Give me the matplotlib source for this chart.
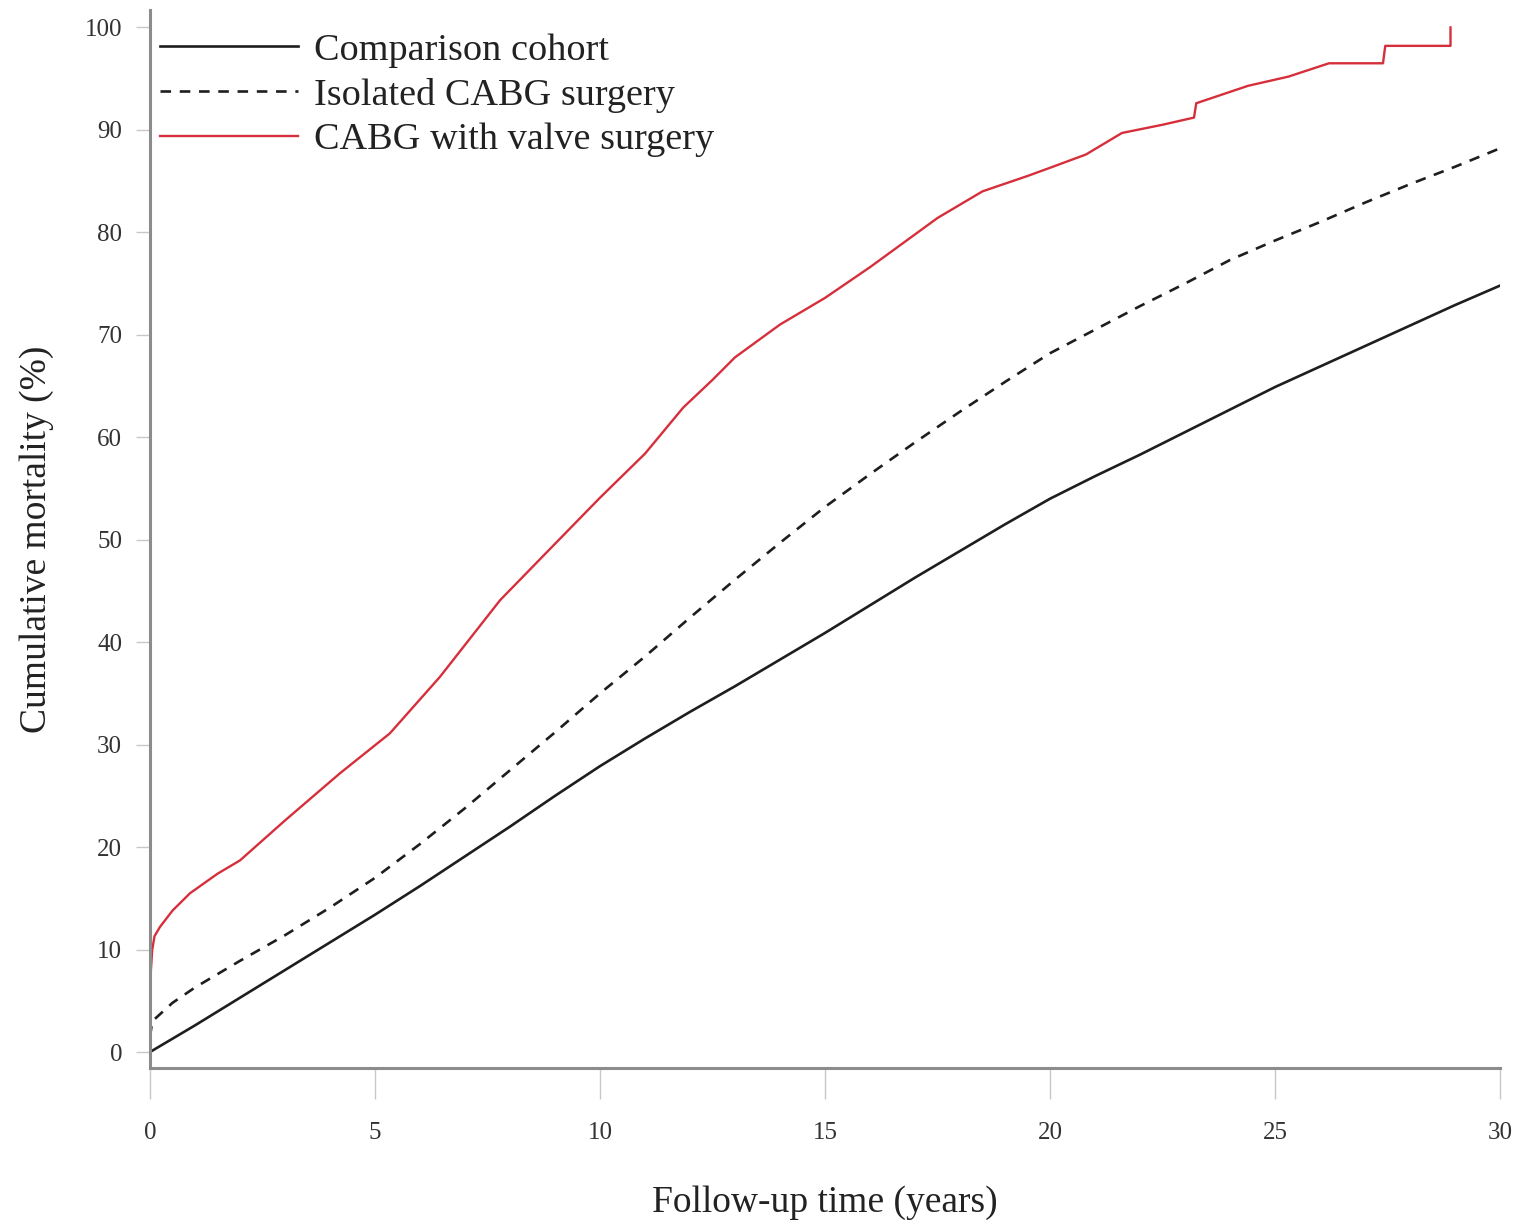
import matplotlib
matplotlib.use("Agg")
import matplotlib.pyplot as plt

# values (years, cumulative mortality %)
comp_t = [0, 0.5, 1, 2, 3, 4, 5, 6, 7, 8, 9, 10, 11, 12, 13, 14, 15, 16, 17, 18,
          19, 20, 21, 22, 23, 24, 25, 26, 27, 28, 29, 30]
comp_v = [0, 1.3, 2.6, 5.3, 8.0, 10.7, 13.4, 16.2, 19.1, 22.0, 25.0, 27.9, 30.6, 33.2,
          35.7, 38.3, 40.9, 43.6, 46.3, 48.9, 51.5, 54.0, 56.2, 58.3, 60.5, 62.7, 64.9,
          66.9, 68.9, 70.9, 72.9, 74.8]

iso_t = [0, 0.05, 0.5, 1, 2, 3, 4, 5, 6, 7, 8, 9, 10, 11, 12, 13, 14, 15, 16, 17, 18,
         19, 20, 21, 22, 23, 24, 25, 26, 27, 28, 29, 30]
iso_v = [1.5, 3.0, 4.8, 6.3, 8.9, 11.4, 14.1, 17.0, 20.3, 23.8, 27.5, 31.2, 35.0, 38.6,
         42.4, 46.1, 49.7, 53.2, 56.4, 59.5, 62.5, 65.4, 68.2, 70.5, 72.8, 75.0, 77.3,
         79.2, 81.0, 82.9, 84.7, 86.4, 88.2]

valve_t = [0, 0.02, 0.05, 0.1, 0.22, 0.5, 0.89, 1.5, 2, 3, 4.22, 5.33, 6.44, 7.78, 9,
           10, 11, 11.85, 12.5, 13, 14, 15, 16, 16.5, 17.5, 18.5, 19.5, 20, 20.8, 21.6,
           22.5, 23.2, 23.25, 24.4, 25.3, 26.2, 27.4, 27.45, 28.9, 28.9]
valve_v = [5.0, 8.0, 10.0, 11.3, 12.2, 13.8, 15.5, 17.4, 18.7, 22.6, 27.2, 31.1, 36.6,
           44.1, 49.6, 54.1, 58.4, 62.9, 65.6, 67.8, 71.0, 73.6, 76.6, 78.2, 81.4, 84.0,
           85.5, 86.3, 87.6, 89.7, 90.5, 91.2, 92.6, 94.3, 95.2, 96.5, 96.5, 98.2, 98.2,
           100.0]

labels = ["Comparison cohort", "Isolated CABG surgery", "CABG with valve surgery"]

plt.rcParams['font.family'] = ['Liberation Serif', 'DejaVu Serif']

fig = plt.figure(figsize=(15.24, 12.27), dpi=100)
ax = fig.add_axes([150 / 1524, 1 - 1068 / 1227, 1350 / 1524, 1058 / 1227])

ax.plot(comp_t, comp_v, color='#1e1e1e', lw=1.9, label=labels[0])
ax.plot(iso_t, iso_v, color='#1e1e1e', lw=1.9, ls=(0, (4, 3.3)), label=labels[1])
ax.plot(valve_t, valve_v, color='#d62f3c', lw=1.7, label=labels[2])

ax.set_xlim(0, 30)
ax.set_ylim(-1.56, 101.7)
ax.set_xticks(range(0, 31, 5))
ax.set_yticks(range(0, 101, 10))

for side in ['top', 'right']:
    ax.spines[side].set_visible(False)
for side in ['left', 'bottom']:
    ax.spines[side].set_color('#8c8c8c')
    ax.spines[side].set_linewidth(2.2)

ax.tick_params(axis='x', length=22, width=1, color='#c8c8c8', pad=17,
               labelsize=18, labelcolor='#333333')
ax.tick_params(axis='y', length=10, width=1, color='#c8c8c8', pad=10,
               labelsize=18, labelcolor='#333333')

ax.set_xlabel('Follow-up time (years)', fontsize=27, color='#222222', labelpad=30)
ax.set_ylabel('Cumulative mortality (%)', fontsize=27, color='#222222', labelpad=22)

ax.legend(loc='upper left', bbox_to_anchor=(160 / 1524, 1 - 33 / 1227),
          bbox_transform=fig.transFigure, frameon=False, fontsize=27.5,
          borderpad=0, borderaxespad=0, handlelength=3.6, handletextpad=0.42,
          labelspacing=0.26, labelcolor='#222222')

fig.savefig('out.png', dpi=100, facecolor='white')
